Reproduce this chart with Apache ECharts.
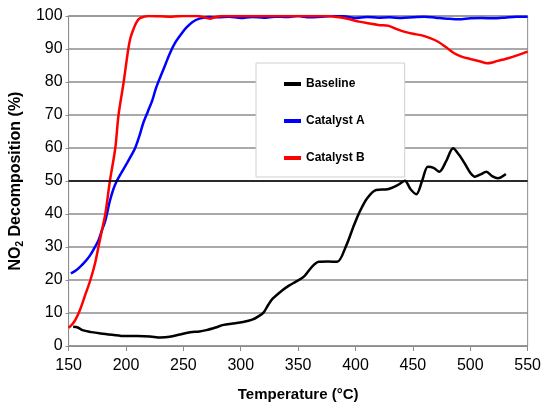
<!DOCTYPE html>
<html>
<head>
<meta charset="utf-8">
<script src="https://cdn.jsdelivr.net/npm/echarts@6/dist/echarts.min.js"></script>
<style>
  html, body { margin: 0; padding: 0; background: #fff; }
  #chart { width: 544px; height: 412px; }
</style>
</head>
<body>
<div id="chart"></div>
<script>
// temperatures (°C) and NO2 decomposition (%)
const baselineT = [154, 158, 162, 170, 178, 188, 199, 210, 221, 230, 238, 247, 256, 264, 270, 278, 285, 293, 302, 310, 315, 320, 324, 328, 336, 342, 348, 355, 362, 368, 376, 384, 392, 398, 403, 410, 418, 428, 437, 443, 448, 453, 458, 463, 468, 473, 479, 485, 490, 495, 500, 504, 509, 514, 519, 524, 531]
const baselineV = [5.8, 5.6, 4.8, 4.2, 3.8, 3.4, 3.0, 3.0, 2.9, 2.6, 2.8, 3.5, 4.2, 4.4, 4.8, 5.6, 6.4, 6.8, 7.3, 8.0, 8.9, 10.2, 12.5, 14.4, 16.8, 18.3, 19.5, 21.0, 24.0, 25.5, 25.6, 25.5, 30.5, 36.0, 40.2, 44.7, 47.3, 47.5, 48.8, 50.1, 47.5, 46.0, 50.0, 54.3, 54.0, 52.8, 56.0, 59.9, 58.0, 55.4, 52.5, 51.3, 52.0, 52.8, 51.5, 50.8, 52.1]

const catAT = [152, 156, 160, 165, 169, 173, 176, 179, 182, 186, 189, 192, 196, 201, 205, 208, 212, 215, 219, 223, 226, 230, 234, 238, 243, 248, 253, 258, 264, 272, 280, 290, 300, 310, 320, 330, 340, 350, 360, 370, 380, 390, 400, 410, 420, 430, 440, 450, 460, 470, 480, 490, 500, 510, 520, 530, 540, 550]
const catAV = [22.0, 22.8, 24.0, 25.8, 27.6, 30.0, 32.0, 35.0, 38.0, 44.0, 47.5, 50.0, 52.5, 55.5, 58.0, 60.0, 64.0, 67.5, 71.0, 74.5, 78.0, 81.6, 85.0, 88.5, 92.0, 94.5, 96.6, 98.2, 99.2, 99.7, 99.6, 99.8, 99.4, 99.7, 99.5, 99.8, 99.7, 100, 99.6, 99.8, 100, 99.9, 99.4, 99.7, 99.5, 99.6, 99.4, 99.6, 99.8, 99.5, 99.2, 99.0, 99.3, 99.4, 99.3, 99.5, 99.8, 99.8]

const catBT = [150, 153, 156, 160, 165, 169, 173, 176, 179, 182, 186, 190.7, 193.5, 198, 202, 204, 206.5, 209, 212, 216, 220, 230, 240, 250, 262, 268, 273, 278, 285, 300, 320, 340, 360, 375, 386, 395, 403, 411, 420, 429, 436, 443, 450, 457, 465, 472, 479, 486, 493, 501, 508, 515, 524, 533, 542, 550]
const catBV = [5.5, 6.5, 8.0, 11.0, 16.0, 20.0, 25.0, 30.0, 35.0, 40.0, 50.0, 60.0, 70.0, 80.0, 90.0, 93.5, 96.0, 98.0, 99.3, 99.8, 100, 99.9, 99.8, 100, 100, 99.6, 99.2, 99.7, 100, 100, 100, 100, 100, 100, 99.6, 99.0, 98.3, 97.8, 97.3, 97.0, 96.0, 95.2, 94.6, 94.2, 93.3, 92.2, 90.5, 88.7, 87.6, 86.9, 86.3, 85.7, 86.4, 87.2, 88.2, 89.2]

const seriesNames = ['Baseline', 'Catalyst A', 'Catalyst B']
const seriesColors = ['#000000', '#0000ff', '#ff0000']

const zip = (xs, ys) => xs.map((x, i) => [x, ys[i]])

const chart = echarts.init(document.getElementById('chart'))
const font = "'Liberation Sans', Arial, sans-serif"

const makeLine = (name, color, data, extra) => Object.assign({
  name: name,
  type: 'line',
  data: data,
  showSymbol: false,
  symbol: 'none',
  smooth: 0.3,
  lineStyle: { color: color, width: 2.5 },
  itemStyle: { color: color }
}, extra || {})

chart.setOption({
  animation: false,
  textStyle: { fontFamily: font },
  grid: {
    left: 68, right: 14, top: 16, bottom: 66,
    show: true,
    borderColor: '#8c8c8c',
    borderWidth: 1
  },
  legend: {
    orient: 'vertical',
    left: 256,
    top: 63,
    padding: [14, 40, 12, 28],
    itemGap: 23,
    itemWidth: 17,
    itemHeight: 4,
    icon: 'rect',
    backgroundColor: '#fff',
    borderColor: '#d0d0d0',
    borderWidth: 1,
    textStyle: {
      fontWeight: 'bold',
      fontSize: 12,
      lineHeight: 14,
      color: '#000'
    },
    data: seriesNames
  },
  xAxis: {
    type: 'value',
    min: 150,
    max: 550,
    interval: 50,
    name: 'Temperature (°C)',
    nameLocation: 'middle',
    nameGap: 41,
    nameTextStyle: { fontSize: 15, fontWeight: 'bold', color: '#000' },
    axisLine: { lineStyle: { color: '#8c8c8c', width: 1 } },
    axisTick: { show: true, length: 5, lineStyle: { color: '#8c8c8c' } },
    axisLabel: { fontSize: 16, color: '#000', margin: 12 },
    splitLine: { show: false }
  },
  yAxis: {
    type: 'value',
    min: 0,
    max: 100,
    interval: 10,
    name: '{a|NO}{s|2}{a| Decomposition (%)}',
    nameLocation: 'middle',
    nameGap: 38,
    nameRotate: 90,
    nameTextStyle: {
      color: '#000',
      rich: {
        a: { fontSize: 16, fontWeight: 'bold', color: '#000', lineHeight: 18 },
        s: { fontSize: 10, fontWeight: 'bold', color: '#000', verticalAlign: 'bottom', lineHeight: 18, padding: [6, 0, 0, 0] }
      }
    },
    axisLine: { show: true, lineStyle: { color: '#8c8c8c', width: 1 } },
    axisTick: { show: true, length: 3, lineStyle: { color: '#8c8c8c' } },
    axisLabel: { fontSize: 16, color: '#000', margin: 6 },
    splitLine: { show: true, lineStyle: { color: '#8c8c8c', width: 1.5 } }
  },
  series: [
    makeLine(seriesNames[0], seriesColors[0], zip(baselineT, baselineV), {
      markLine: {
        silent: true,
        symbol: 'none',
        label: { show: false },
        lineStyle: { color: '#000', type: 'solid', width: 1.5 },
        data: [{ yAxis: 50 }]
      }
    }),
    makeLine(seriesNames[1], seriesColors[1], zip(catAT, catAV)),
    makeLine(seriesNames[2], seriesColors[2], zip(catBT, catBV))
  ]
})
</script>
</body>
</html>
